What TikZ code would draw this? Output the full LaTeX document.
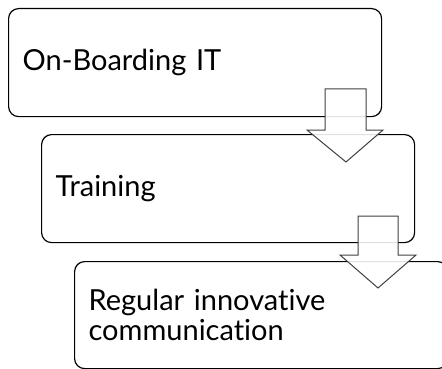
\documentclass[tikz,border=0pt]{standalone}
\usepackage{fontspec}
\setmainfont{Lato}[Ligatures=NoCommon]
\begin{document}
\begin{tikzpicture}[x=1pt,y=-1pt,
  stepbox/.style={draw=black, line width=1.2pt, rounded corners=10pt,
    fill=white, anchor=north west, minimum width=373pt, minimum height=108pt,
    text width=345pt, inner xsep=14pt, align=left,
    font=\fontsize{29}{30}\selectfont},
  downarrow/.style={draw=black!75, line width=1pt, fill=white, fill opacity=0.88}]
  \useasboundingbox (0,0) rectangle (442,369);
  \clip (0,0) rectangle (442,369);

  % staggered process boxes
  \node[stepbox] (b1) at (8,8) {On-Boarding IT};
  \node[stepbox] (b2) at (41,134) {Training};
  \node[stepbox, minimum height=107pt] (b3) at (74,261) {Regular innovative\\communication};

  % block arrows linking each box to the next
  \draw[downarrow] (325,89) -- (366,89) -- (366,130) -- (383,130) -- (346,162)
    -- (307,130) -- (325,130) -- cycle;
  \draw[downarrow] (358,216) -- (398,216) -- (398,255) -- (416,255) -- (378,288)
    -- (340,255) -- (358,255) -- cycle;
\end{tikzpicture}
\end{document}
